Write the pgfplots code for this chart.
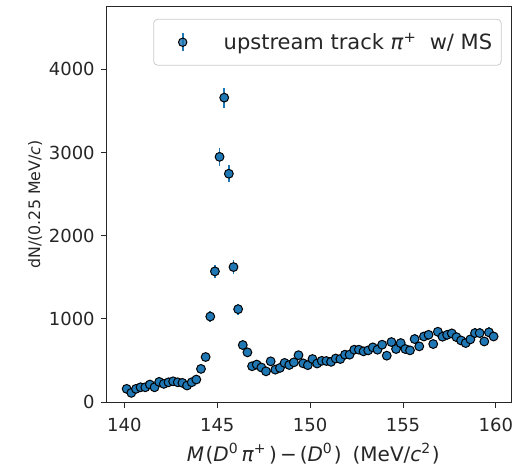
\documentclass[border=0pt]{standalone}
\usepackage{fontspec}
\setmainfont{DejaVu Sans}
\usepackage{pgfplots}
\pgfplotsset{compat=1.18}
\definecolor{c0}{HTML}{1F77B4}
\definecolor{axc}{HTML}{262626}

\pgfplotstableread{
x y e
140.125 158 25
140.375 110 21
140.625 158 25
140.875 177 27
141.125 177 27
141.375 210 29
141.625 177 27
141.875 242 31
142.125 218 30
142.375 237 31
142.625 249 32
142.875 237 31
143.125 230 30
143.375 198 28
143.625 237 31
143.875 270 33
144.125 398 40
144.375 541 47
144.625 1028 64
144.875 1571 79
145.125 2948 109
145.375 3660 121
145.625 2745 105
145.875 1623 81
146.125 1116 67
146.375 685 52
146.625 597 49
146.875 430 41
147.125 450 42
147.375 415 41
147.625 369 38
147.875 489 44
148.125 389 39
148.375 410 40
148.625 470 43
148.875 445 42
149.125 477 44
149.375 563 47
149.625 465 43
149.875 443 42
150.125 517 45
150.375 463 43
150.625 495 44
150.875 493 44
151.125 483 44
151.375 523 46
151.625 517 45
151.875 569 48
152.125 569 48
152.375 629 50
152.625 629 50
152.875 609 49
153.125 621 50
153.375 657 51
153.625 629 50
153.875 689 52
154.125 557 47
154.375 721 54
154.625 637 50
154.875 709 53
155.125 637 50
155.375 621 50
155.625 757 55
155.875 669 52
156.125 788 56
156.375 808 57
156.625 697 53
156.875 845 58
157.125 785 56
157.375 808 57
157.625 825 57
157.875 780 56
158.125 740 54
158.375 709 53
158.625 753 55
158.875 829 58
159.125 829 58
159.375 728 54
159.625 838 58
159.875 788 56
}\datatable

\begin{document}
\begin{tikzpicture}
\begin{axis}[
  name=ax,
  scale only axis,
  width=405pt, height=395pt,
  xmin=139.05, xmax=160.85,
  ymin=0, ymax=4750,
  xtick={140,145,150,155,160},
  ytick={0,1000,2000,3000,4000},
  xtick pos=bottom, ytick pos=left,
  tick align=outside,
  major tick length=5.5pt,
  axis line style={line width=1pt, color=axc},
  tick style={line width=1pt, color=axc},
  ticklabel style={font=\fontsize{18}{21}\selectfont, text=axc},
  xticklabel style={yshift=-7pt},
  yticklabel style={xshift=-3pt},
  /pgf/number format/assume math mode=true,
  /pgf/number format/1000 sep={},
  scaled y ticks=false,
  xlabel={\textit{M}\kern1.5pt(\textit{D}\textsuperscript{0}\kern3.5pt\textit{π}\textsuperscript{+}\kern3pt)\kern3pt−\kern3pt(\textit{D}\textsuperscript{0}\kern1.5pt)\kern11pt(MeV/\textit{c}\textsuperscript{2}\kern1pt)},
  xlabel style={at={(axis description cs:0.51,0)}, anchor=base, yshift=-59pt, font=\fontsize{20}{24}\selectfont, text=axc, inner sep=0pt},
  ylabel={dN/(0.25 MeV/\textit{c})},
  ylabel style={at={(axis description cs:-0.1765,0.5)}, anchor=center, font=\fontsize{15.8}{18}\selectfont, text=axc, inner sep=0pt},
  legend style={
    at={(0.975,0.97)}, anchor=north east,
    draw=black!20, line width=0.8pt, rounded corners=4pt,
    fill=white, fill opacity=0.8, text opacity=1,
    font=\fontsize{21}{24}\selectfont, text=axc,
    inner xsep=0pt, inner ysep=0pt,
    nodes={inner sep=0pt},
    column sep=0pt,
    cells={anchor=west},
  },
  legend image code/.code={
    \path[draw=none, fill=none] (0pt,-23pt) rectangle (70pt,23pt);
    \draw[c0, line width=1.8pt] (29pt,-9pt) -- (29pt,9pt);
    \draw[fill=c0, draw=black, line width=1pt] (29pt,0pt) circle (4.2pt);
  },
]
\addplot[
  only marks,
  mark=*,
  mark size=4.4pt,
  mark options={fill=c0, draw=black, line width=1pt},
  error bars/.cd,
    y dir=both, y explicit,
    error mark=none,
    error bar style={c0, line width=1.8pt},
] table[x=x, y=y, y error=e] {\datatable};
\addlegendentry{upstream track \textit{π}\textsuperscript{+}\ \ w/ MS\kern9pt}
\end{axis}
\pgfresetboundingbox
\path ([shift={(-106.7pt,-64pt)}]ax.south west) rectangle ([shift={(10.3pt,7pt)}]ax.north east);
\end{tikzpicture}
\end{document}
